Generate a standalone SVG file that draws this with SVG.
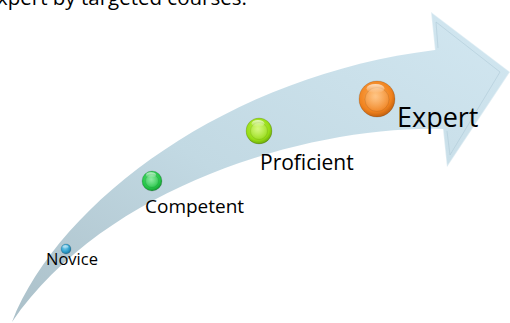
<svg xmlns="http://www.w3.org/2000/svg" width="510" height="323" viewBox="0 0 510 323">
<defs>
<linearGradient id="band" x1="0" y1="1" x2="1" y2="0">
<stop offset="0" stop-color="#abc0c9"/>
<stop offset="0.45" stop-color="#c2d9e3"/>
<stop offset="1" stop-color="#d2e7f1"/>
</linearGradient>
<radialGradient id="gBlue" cx="0.4" cy="0.35" r="0.7">
<stop offset="0" stop-color="#7fd0ee"/><stop offset="0.6" stop-color="#2f9fcc"/><stop offset="1" stop-color="#1a6f96"/>
</radialGradient>
<radialGradient id="gGreen" cx="0.45" cy="0.4" r="0.65">
<stop offset="0" stop-color="#5fe27c"/><stop offset="0.7" stop-color="#22c445"/><stop offset="1" stop-color="#14862c"/>
</radialGradient>
<radialGradient id="gLime" cx="0.45" cy="0.4" r="0.65">
<stop offset="0" stop-color="#c4f54a"/><stop offset="0.7" stop-color="#95dc14"/><stop offset="1" stop-color="#5f9a08"/>
</radialGradient>
<radialGradient id="gOrange" cx="0.45" cy="0.4" r="0.65">
<stop offset="0" stop-color="#ffae55"/><stop offset="0.7" stop-color="#f0821e"/><stop offset="1" stop-color="#b3560a"/>
</radialGradient>
<radialGradient id="inner" cx="0.45" cy="0.4" r="0.6">
<stop offset="0" stop-color="#ffffff" stop-opacity="0.3"/><stop offset="1" stop-color="#ffffff" stop-opacity="0.05"/>
</radialGradient>
<linearGradient id="hl" x1="0" y1="0" x2="0" y2="1">
<stop offset="0" stop-color="#ffffff" stop-opacity="0.7"/><stop offset="1" stop-color="#ffffff" stop-opacity="0"/>
</linearGradient>
</defs>
<style>
text{font-family:"Open Sans","Noto Sans","Liberation Sans",sans-serif;fill:#000}
.rim{fill:none;stroke:#000;stroke-opacity:0.18;stroke-width:0.8}
.in{fill:url(#inner);stroke:#000;stroke-opacity:0.12;stroke-width:0.8}
.hi{fill:url(#hl)}
</style>
<text x="-3" y="5" font-size="20.5">xpert by targeted courses.</text>
<g id="arrow">
<path d="M12,322 C60,200 230,75 435,50 L431,12 L510,72 L447,167 L443,129 C320,125 110,180 12,322 Z" fill="url(#band)"/>
<path d="M435,50 L431,12 L510,72 L447,167 L443,129" fill="none" stroke="#ffffff" stroke-opacity="0.35" stroke-width="1.5"/>
<path d="M438,48 L436,22 L500,72 L450,155 L447,131" fill="none" stroke="#a9c6d3" stroke-opacity="0.5" stroke-width="1"/>
</g>
<g id="novice">
<circle cx="66" cy="249" r="5" fill="url(#gBlue)"/>
<circle class="rim" cx="66" cy="249" r="5"/>
<ellipse class="hi" cx="65.5" cy="247" rx="3" ry="1.8"/>
<text x="46" y="265" font-size="16.5">Novice</text>
</g>
<g id="competent">
<circle cx="152" cy="181" r="10" fill="url(#gGreen)"/>
<circle class="in" cx="152" cy="181" r="6.5"/>
<circle class="rim" cx="152" cy="181" r="10"/>
<ellipse class="hi" cx="151" cy="175" rx="5" ry="2.8"/>
<text x="145" y="213" font-size="19">Competent</text>
</g>
<g id="proficient">
<circle cx="259" cy="131" r="13" fill="url(#gLime)"/>
<circle class="in" cx="259" cy="131" r="8.5"/>
<circle class="rim" cx="259" cy="131" r="13"/>
<ellipse class="hi" cx="258" cy="123.5" rx="6.5" ry="3.5"/>
<text x="260" y="170" font-size="21">Proficient</text>
</g>
<g id="expert">
<circle cx="377" cy="99" r="18" fill="url(#gOrange)"/>
<circle class="in" cx="377" cy="99.5" r="12"/>
<circle class="rim" cx="377" cy="99" r="18"/>
<ellipse class="hi" cx="375.5" cy="88.5" rx="9" ry="4.5"/>
<text x="397" y="127" font-size="27">Expert</text>
</g>
</svg>
